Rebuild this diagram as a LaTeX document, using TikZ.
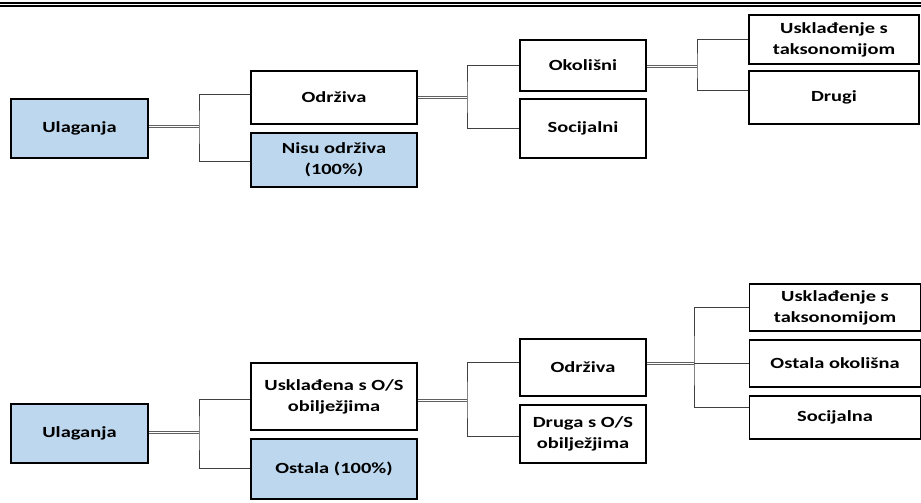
\documentclass[tikz,border=0pt]{standalone}
\usepackage{fontspec}
\setmainfont{Carlito}[FakeStretch=1.32]
\usepackage{tikz}
\usetikzlibrary{positioning}

\definecolor{boxblue}{HTML}{BDD7EE}

\begin{document}
\begin{tikzpicture}[x=1pt,y=-1pt,
		box/.style={draw=black,line width=1.4pt,fill=white,align=center,inner sep=0pt,
			font=\fontsize{15.5}{21}\selectfont\bfseries},
		bluebox/.style={box,fill=boxblue},
		trunk/.style={draw=gray!75!black,line width=0.9pt,double=white,double distance=0.8pt},
		branch/.style={draw=gray!50!black,line width=0.8pt}]
	\useasboundingbox (0,0) rectangle (921,503);

	% double rule at the top
	\draw[line width=2.2pt] (0,3) -- (921,3);
	\draw[line width=1.6pt] (0,6.2) -- (921,6.2);

	%% upper tree
	\node[bluebox,minimum width=137pt,minimum height=59pt] (ul1) at (79.5,128.5) {Ulaganja};
	\node[box,minimum width=166pt,minimum height=53pt] (od1) at (334,97.5) {Održiva};
	\node[bluebox,minimum width=166pt,minimum height=54pt] (nod1) at (334,160) {Nisu održiva\\(100\%)};

	\node[box,minimum width=126pt,minimum height=51pt] (ok1) at (583,65.5) {Okolišni};
	\node[box,minimum width=126pt,minimum height=59pt] (so1) at (583,128.5) {Socijalni};

	\node[box,minimum width=170pt,minimum height=49pt] (ut1) at (834,39.5) {Usklađenje s\\taksonomijom};
	\node[box,minimum width=170pt,minimum height=53pt] (dr1) at (834,97.5) {Drugi};

	\coordinate (f1) at (199,126.5);
	\coordinate (f2) at (467,97.5);
	\coordinate (f3) at (697,66.5);

	\draw[trunk] (ul1.east |- f1) -- (f1);
	\draw[branch] (od1.west |- 0,94.5) -| (f1) |- (nod1.west |- 0,161.5);
	\draw[trunk] (od1.east) -- (f2);
	\draw[branch] (ok1.west) -| (f2) |- (so1.west);
	\draw[trunk] (ok1.east |- f3) -- (f3);
	\draw[branch] (ut1.west) -| (f3) |- (dr1.west |- 0,90.5);

	%% lower tree
	\node[bluebox,minimum width=137pt,minimum height=59pt] (ul2) at (79.5,433.5) {Ulaganja};
	\node[box,minimum width=166pt,minimum height=67pt] (us2) at (334,396.5) {Usklađena s O/S\\obilježjima};
	\node[bluebox,minimum width=166pt,minimum height=60pt] (os2) at (334,469) {Ostala (100\%)};

	\node[box,minimum width=126pt,minimum height=57pt] (od2) at (583,367.5) {Održiva};
	\node[box,minimum width=126pt,minimum height=58pt] (dg2) at (583,434) {Druga s O/S\\obilježjima};

	\node[box,minimum width=171pt,minimum height=47pt] (ut2) at (835,307.5) {Usklađenje s\\taksonomijom};
	\node[box,minimum width=171pt,minimum height=47pt] (oo2) at (835,363.5) {Ostala okolišna};
	\node[box,minimum width=171pt,minimum height=43pt] (sc2) at (835,417.5) {Socijalna};

	\coordinate (f4) at (199,432.5);
	\coordinate (f5) at (467,400.5);
	\coordinate (f6) at (694,363.5);

	\draw[trunk] (ul2.east |- f4) -- (f4);
	\draw[branch] (us2.west |- 0,399.5) -| (f4) |- (os2.west |- 0,468.5);
	\draw[trunk] (us2.east |- f5) -- (f5);
	\draw[branch] (od2.west |- 0,362.5) -| (f5) |- (dg2.west |- 0,436.5);
	\draw[trunk] (od2.east |- f6) -- (f6);
	\draw[branch] (ut2.west) -| (f6) |- (sc2.west |- 0,407.5);
	\draw[branch] (f6) -- (oo2.west);
\end{tikzpicture}
\end{document}
